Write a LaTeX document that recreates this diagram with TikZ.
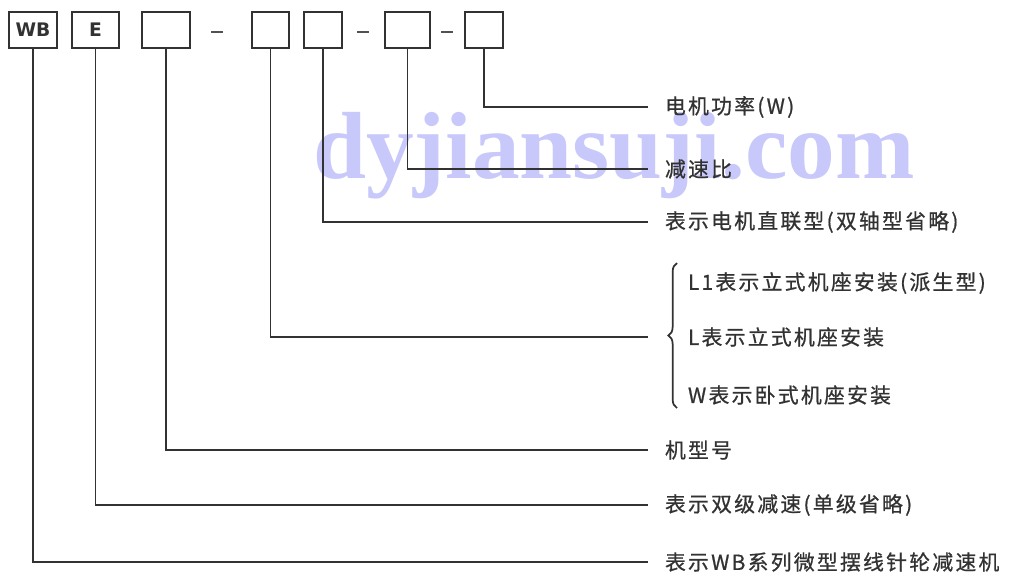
\documentclass[tikz,border=0pt]{standalone}
\usepackage{fontspec}
\setmainfont{Noto Sans CJK SC}[LetterSpace=11, RawFeature={embolden=0.8}]
\newfontfamily\boxfont{DejaVu Sans}
\newfontfamily\markfont{Liberation Serif}
\usetikzlibrary{decorations.pathreplacing}
\definecolor{ink}{RGB}{50,50,50}
\definecolor{mark}{RGB}{200,200,250}
\begin{document}
\begin{tikzpicture}[
            x=0.75pt, y=-0.75pt,
            code/.style={draw=ink, line width=1.3pt, minimum height=27pt, inner sep=0pt,
                font=\boxfont\bfseries\fontsize{14}{15}\selectfont, text=ink},
            gap/.style={fill=ink!85, minimum width=9pt, minimum height=1.4pt, inner sep=0pt},
            desc/.style={anchor=west, inner sep=0pt, outer xsep=12.75pt,
                font=\fontsize{15.6}{17}\selectfont, text=ink},
            lead/.style={draw=ink, line width=1.3pt}
        ]
            \useasboundingbox (0,0) rectangle (1009,576);
            \node[anchor=base west, inner sep=0pt, text=mark,
                font=\markfont\bfseries\fontsize{71.5}{72}\selectfont] (site) at (313,178) {dyjiansuji.com};

            \node[code, minimum width=36pt] (wb) at (33,30) {WB};
            \node[code, minimum width=35.25pt] (stage) at (95.5,30) {E};
            \node[code, minimum width=36pt] (model) at (166,30) {};
            \node[gap] (d1) at (217,32) {};
            \node[code, minimum width=27.75pt] (mount) at (270.5,30) {};
            \node[code, minimum width=28.5pt] (direct) at (323,30) {};
            \node[gap] (d2) at (362.5,32) {};
            \node[code, minimum width=33.75pt] (ratio) at (407.5,30) {};
            \node[gap] (d3) at (446.5,32) {};
            \node[code, minimum width=28.5pt] (power) at (484,30) {};

            \node[desc] (powertxt) at (648,107) {电机功率(W)};
            \node[desc] (ratiotxt) at (648,169) {减速比};
            \node[desc] (directtxt) at (648,222) {表示电机直联型(双轴型省略)};
            \node[desc] (mountl1) at (671,283) {L1表示立式机座安装(派生型)};
            \node[desc] (mountl) at (671,337) {L表示立式机座安装};
            \node[desc] (mountw) at (671,395) {W表示卧式机座安装};
            \node[desc] (modeltxt) at (648,450) {机型号};
            \node[desc] (stagetxt) at (648,505) {表示双级减速(单级省略)};
            \node[desc] (wbtxt) at (648,562) {表示WB系列微型摆线针轮减速机};

            \coordinate (brtop) at (677,263);
            \coordinate (brbot) at (677,408);
            \coordinate (brtip) at (648,337);
            \draw[ink, line width=1.3pt, decorate, decoration={brace, amplitude=6.5pt}] (brbot) -- (brtop);

            \draw[lead] (power.south) |- (powertxt.west);
            \draw[lead] (ratio.south) |- (ratiotxt.west);
            \draw[lead] (direct.south) |- (directtxt.west);
            \draw[lead] (mount.south) |- (brtip);
            \draw[lead] (model.south) |- (modeltxt.west);
            \draw[lead] (stage.south) |- (stagetxt.west);
            \draw[lead] (wb.south) |- (wbtxt.west);
        \end{tikzpicture}
\end{document}
